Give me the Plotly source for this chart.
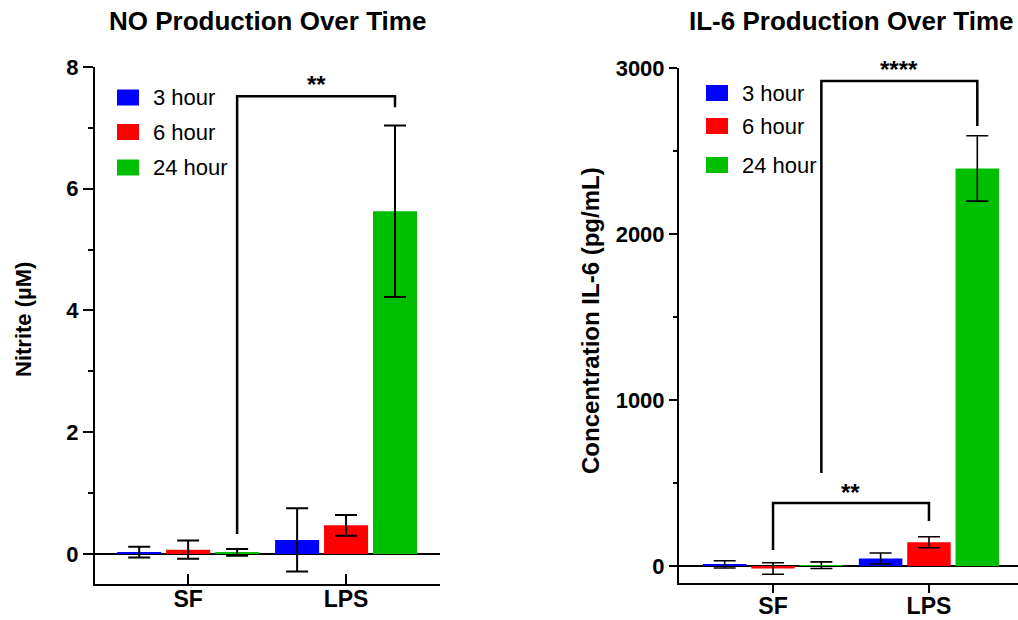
import plotly.graph_objects as go

# ---------------- data ----------------
categories = ["SF", "LPS"]
series_names = ["3 hour", "6 hour", "24 hour"]
series_colors = ["#0000FF", "#FF0000", "#00BF00"]

no_3h = [0.03, 0.23]
no_6h = [0.07, 0.47]
no_24h = [0.025, 5.63]
no_3h_err = [0.09, 0.52]
no_6h_err = [0.15, 0.17]
no_24h_err = [0.055, 1.41]

il6_3h = [10, 45]
il6_6h = [-15, 143]
il6_24h = [5, 2395]
il6_3h_err = [22, 33]
il6_6h_err = [35, 33]
il6_24h_err = [20, 197]

no_ticks = [0, 2, 4, 6, 8]
il6_ticks = [0, 1000, 2000, 3000]

FONT = "Liberation Sans, Arial, sans-serif"
BARGAP = 0.07
BARGROUPGAP = 0.10
SLOT = (1 - BARGAP) / 3  # category units between bar centres in a group


def bar_x(cat_index, series_index):
    return cat_index + (series_index - 1) * SLOT


fig = go.Figure()

no_vals = [no_3h, no_6h, no_24h]
no_errs = [no_3h_err, no_6h_err, no_24h_err]
il6_vals = [il6_3h, il6_6h, il6_24h]
il6_errs = [il6_3h_err, il6_6h_err, il6_24h_err]

for name, col, v, e in zip(series_names, series_colors, no_vals, no_errs):
    fig.add_trace(go.Bar(
        x=categories, y=v, name=name, marker=dict(color=col, line=dict(width=0)),
        error_y=dict(type="data", array=e, visible=True, color="black", thickness=2, width=11),
        xaxis="x", yaxis="y", showlegend=False))

for name, col, v, e in zip(series_names, series_colors, il6_vals, il6_errs):
    fig.add_trace(go.Bar(
        x=categories, y=v, name=name, marker=dict(color=col, line=dict(width=0)),
        error_y=dict(type="data", array=e, visible=True, color="black", thickness=1.6, width=11),
        xaxis="x2", yaxis="y2", showlegend=False))

axis_common = dict(showline=True, linecolor="black", linewidth=2, showgrid=False,
                   tickcolor="black", tickwidth=2, layer="above traces", automargin=False)

fig.update_layout(
    template="none",
    width=1018, height=620, margin=dict(l=0, r=0, t=0, b=0, pad=0, autoexpand=False),
    paper_bgcolor="white", plot_bgcolor="white",
    barmode="group", bargap=BARGAP, bargroupgap=BARGROUPGAP,
    font=dict(family=FONT, color="black"),
    xaxis=dict(domain=[95 / 1018, 440 / 1018], range=[-0.59, 1.595], type="category",
               ticks="inside", ticklen=10, anchor="y", zeroline=False,
               tickfont=dict(size=23, weight="bold"), ticklabelstandoff=-7, **axis_common),
    yaxis=dict(domain=[(620 - 584.4) / 620, (620 - 67) / 620], range=[-0.5, 8], anchor="x",
               tickvals=no_ticks, ticks="outside", ticklen=10,
               minor=dict(dtick=1, ticks="outside", ticklen=5, tickwidth=2, tickcolor="black"),
               zeroline=True, zerolinecolor="black", zerolinewidth=2,
               tickfont=dict(size=22, weight="bold"), **axis_common),
    xaxis2=dict(domain=[679 / 1018, 1.0], range=[-0.603, 1.571], type="category",
                ticks="outside", ticklen=8, anchor="y2", zeroline=False,
                tickfont=dict(size=23, weight="bold"), ticklabelstandoff=-6, **axis_common),
    yaxis2=dict(domain=[(620 - 582.6) / 620, (620 - 68) / 620], range=[-100, 3000], anchor="x2",
                tickvals=il6_ticks, ticks="outside", ticklen=8,
                minor=dict(dtick=500, ticks="outside", ticklen=4, tickwidth=2, tickcolor="black"),
                zeroline=True, zerolinecolor="black", zerolinewidth=2,
                tickfont=dict(size=22, weight="bold"), **axis_common),
)

shapes = []
annotations = []

# titles
annotations.append(dict(text="<b>NO Production Over Time</b>", x=267 / 1018, y=1 - 21 / 620,
                        xref="paper", yref="paper", showarrow=False, font=dict(size=26),
                        xanchor="center", yanchor="middle"))
annotations.append(dict(text="<b>IL-6 Production Over Time</b>", x=851 / 1018, y=1 - 21 / 620,
                        xref="paper", yref="paper", showarrow=False, font=dict(size=26),
                        xanchor="center", yanchor="middle"))
# y-axis titles
annotations.append(dict(text="<b>Nitrite (µM)</b>", x=23 / 1018, y=1 - 320 / 620,
                        xref="paper", yref="paper", showarrow=False, textangle=-90,
                        font=dict(size=22), xanchor="center", yanchor="middle"))
annotations.append(dict(text="<b>Concentration IL-6 (pg/mL)</b>", x=590 / 1018, y=1 - 321 / 620,
                        xref="paper", yref="paper", showarrow=False, textangle=-90,
                        font=dict(size=24), xanchor="center", yanchor="middle"))

# legends (manual, one per panel)
legend_specs = [(117, [97.5, 132, 167.5]), (706, [93, 126, 165])]
for lx, ys in legend_specs:
    for name, col, yc in zip(series_names, series_colors, ys):
        shapes.append(dict(type="rect", xref="paper", yref="paper",
                           x0=lx / 1018, x1=(lx + 22) / 1018,
                           y0=1 - (yc + 8) / 620, y1=1 - (yc - 8) / 620,
                           fillcolor=col, line=dict(width=0)))
        annotations.append(dict(text=name, x=(lx + 34) / 1018, y=1 - yc / 620,
                                xref="paper", yref="paper", showarrow=False,
                                font=dict(size=22), xanchor="left", yanchor="middle"))


def bracket(xr, yr, xa, ya, xb, yb, ytop, label, ylabel, lw=2.5):
    shapes.append(dict(type="path", xref=xr, yref=yr,
                       path=f"M {xa},{ya} L {xa},{ytop} L {xb},{ytop} L {xb},{yb}",
                       line=dict(color="black", width=lw)))
    annotations.append(dict(text=f"<b>{label}</b>", x=(xa + xb) / 2, y=ylabel, xref=xr, yref=yr,
                            showarrow=False, font=dict(size=24), xanchor="center",
                            yanchor="middle"))


# NO: SF 24h vs LPS 24h
bracket("x", "y", bar_x(0, 2), 0.33, bar_x(1, 2), 7.34, 7.52, "**", 7.72)
# IL-6: SF 24h vs LPS 24h
bracket("x2", "y2", bar_x(0, 2), 560, bar_x(1, 2), 2651, 2922, "****", 2990)
# IL-6: SF 6h vs LPS 6h
bracket("x2", "y2", bar_x(0, 1), 96, bar_x(1, 1), 271, 380, "**", 440)

fig.update_layout(shapes=shapes, annotations=annotations)

fig.write_html("out.html")
